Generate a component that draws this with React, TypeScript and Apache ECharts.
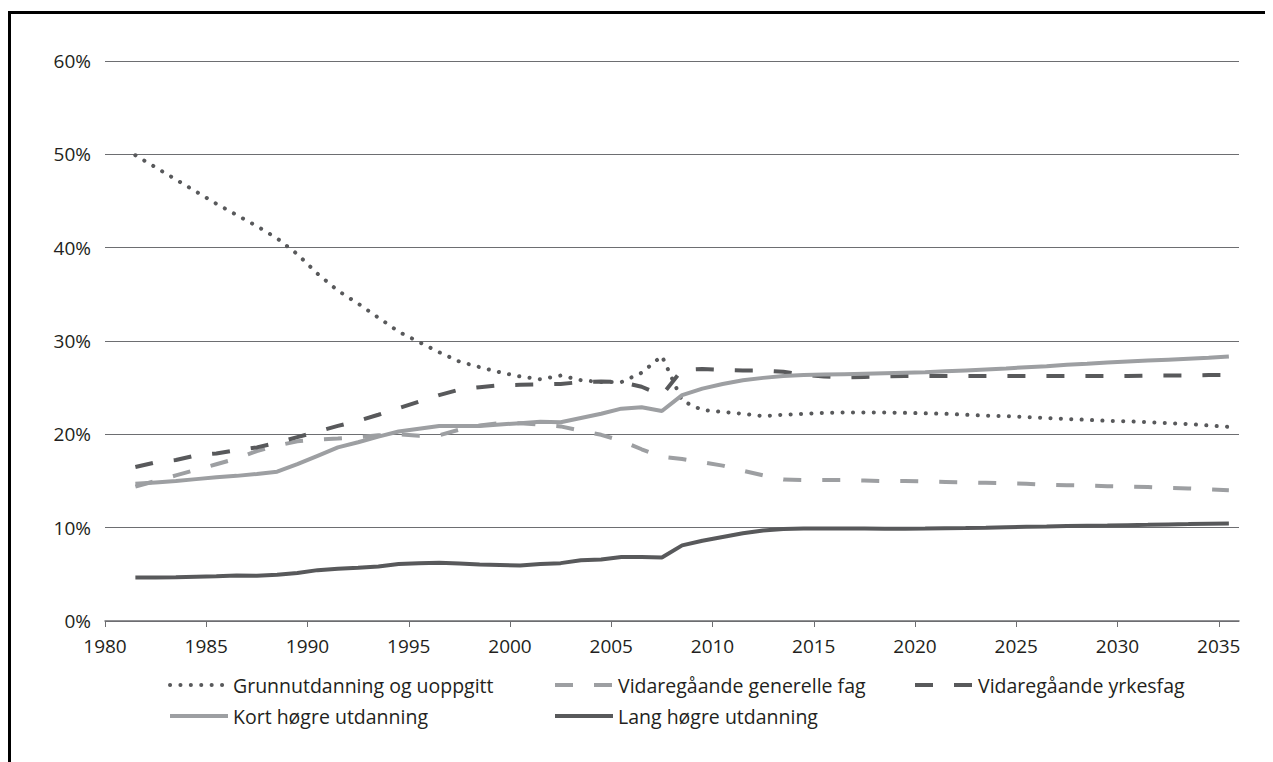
import React, { useEffect, useRef } from "react";
import * as echarts from "echarts";

const years = [
  1981, 1982, 1983, 1984, 1985, 1986, 1987, 1988, 1989, 1990,
  1991, 1992, 1993, 1994, 1995, 1996, 1997, 1998, 1999, 2000,
  2001, 2002, 2003, 2004, 2005, 2006, 2007, 2008, 2009, 2010,
  2011, 2012, 2013, 2014, 2015, 2016, 2017, 2018, 2019, 2020,
  2021, 2022, 2023, 2024, 2025, 2026, 2027, 2028, 2029, 2030,
  2031, 2032, 2033, 2034, 2035,
];

const tickYears = [1980, 1985, 1990, 1995, 2000, 2005, 2010, 2015, 2020, 2025, 2030, 2035];

const grunnutdanning = [
  49.9, 48.6, 47.3, 46.0, 44.7, 43.5, 42.3, 41.0, 39.3, 37.2,
  35.4, 34.0, 32.5, 31.0, 29.9, 28.8, 27.8, 27.2, 26.65, 26.2,
  25.9, 26.3, 25.8, 25.6, 25.6, 26.6, 28.4, 23.6, 22.6, 22.4,
  22.2, 21.95, 22.1, 22.2, 22.3, 22.35, 22.35, 22.35, 22.3, 22.25,
  22.2, 22.1, 22.0, 21.95, 21.85, 21.75, 21.65, 21.55, 21.45, 21.4,
  21.3, 21.2, 21.1, 20.95, 20.8,
];

const generelle = [
  14.4, 15.0, 15.6, 16.2, 16.8, 17.4, 18.2, 18.8, 19.25, 19.45,
  19.55, 19.7, 19.9, 20.0, 19.85, 19.9, 20.5, 20.95, 21.2, 21.2,
  21.05, 20.85, 20.4, 19.95, 19.3, 18.4, 17.6, 17.35, 17.0, 16.65,
  16.1, 15.6, 15.15, 15.1, 15.1, 15.1, 15.05, 15.0, 15.0, 14.95,
  14.9, 14.85, 14.8, 14.75, 14.7, 14.6, 14.55, 14.5, 14.45, 14.4,
  14.35, 14.25, 14.2, 14.1, 14.0,
];

const yrkesfag = [
  16.5, 17.0, 17.25, 17.75, 17.95, 18.3, 18.6, 19.1, 19.7, 20.3,
  20.9, 21.45, 22.1, 22.8, 23.5, 24.2, 24.8, 25.05, 25.25, 25.3,
  25.35, 25.4, 25.6, 25.65, 25.6, 25.1, 24.2, 26.9, 27.0, 26.9,
  26.85, 26.85, 26.7, 26.4, 26.2, 26.1, 26.15, 26.2, 26.25, 26.25,
  26.25, 26.25, 26.25, 26.25, 26.25, 26.25, 26.25, 26.25, 26.25, 26.25,
  26.3, 26.3, 26.3, 26.35, 26.35,
];

const kort = [
  14.7, 14.85, 15.0, 15.2, 15.4, 15.55, 15.75, 16.0, 16.8, 17.7,
  18.6, 19.15, 19.75, 20.3, 20.6, 20.9, 20.9, 20.9, 21.05, 21.2,
  21.35, 21.3, 21.75, 22.2, 22.75, 22.9, 22.5, 24.2, 24.9, 25.4,
  25.8, 26.05, 26.25, 26.35, 26.4, 26.45, 26.5, 26.55, 26.6, 26.65,
  26.75, 26.85, 26.95, 27.05, 27.2, 27.3, 27.45, 27.55, 27.7, 27.8,
  27.9, 28.0, 28.1, 28.2, 28.35,
];

const lang = [
  4.65, 4.67, 4.68, 4.75, 4.8, 4.88, 4.85, 4.95, 5.15, 5.45,
  5.6, 5.7, 5.85, 6.1, 6.2, 6.25, 6.15, 6.05, 6.0, 5.95,
  6.1, 6.2, 6.5, 6.6, 6.85, 6.85, 6.8, 8.1, 8.6, 9.0,
  9.4, 9.7, 9.85, 9.9, 9.9, 9.9, 9.9, 9.88, 9.88, 9.9,
  9.93, 9.96, 10.0, 10.05, 10.1, 10.13, 10.17, 10.2, 10.23, 10.27,
  10.3, 10.35, 10.38, 10.42, 10.45,
];

const seriesNames = [
  "Grunnutdanning og uoppgitt",
  "Vidaregåande generelle fag",
  "Vidaregåande yrkesfag",
  "Kort høgre utdanning",
  "Lang høgre utdanning",
];

const DARK = "#58595b";
const LIGHT = "#9d9fa2";
const TEXT = "#231f20";
const FONT = "'Open Sans', 'Noto Sans', sans-serif";

export default function App() {
  const ref = useRef<HTMLDivElement>(null);

  useEffect(() => {
    if (!ref.current) return;
    const chart = echarts.init(ref.current, undefined, { renderer: "svg" });

    // yearly values are plotted at mid-year
    const toPts = (vals: number[]) => years.map((y, i) => [y + 0.5, vals[i]]);

    const styles = [
      { color: DARK, width: 4, type: [0.1, 10.3], cap: "round" },
      { color: LIGHT, width: 4, type: [18, 21], cap: "butt" },
      { color: DARK, width: 4, type: [18, 21], cap: "butt" },
      { color: LIGHT, width: 4, type: "solid", cap: "butt" },
      { color: DARK, width: 4, type: "solid", cap: "butt" },
    ];
    const values = [grunnutdanning, generelle, yrkesfag, kort, lang];

    const legendPos = [
      { left: 168, top: 675 },
      { left: 553, top: 675 },
      { left: 913, top: 675 },
      { left: 168, top: 706 },
      { left: 553, top: 706 },
    ];

    chart.setOption({
      animation: false,
      textStyle: { fontFamily: FONT },
      grid: { left: 105, right: 34, top: 61, bottom: 141, containLabel: false },
      xAxis: {
        type: "value",
        min: 1980,
        max: 2036,
        interval: 5,
        axisLine: { show: true, lineStyle: { color: "#6d6e71", width: 1.5 } },
        axisTick: {
          show: true,
          inside: false,
          length: 6,
          customValues: tickYears,
          lineStyle: { color: "#6d6e71", width: 1 },
        },
        axisLabel: {
          customValues: tickYears,
          color: TEXT,
          fontSize: 19,
          fontFamily: FONT,
          margin: 15,
          formatter: (v: number) => String(v),
        },
        splitLine: { show: false },
      },
      yAxis: {
        type: "value",
        min: 0,
        max: 60,
        interval: 10,
        axisLine: { show: false },
        axisTick: { show: false },
        axisLabel: {
          color: TEXT,
          fontSize: 19,
          fontFamily: FONT,
          margin: 14,
          formatter: "{value}%",
        },
        splitLine: { show: true, lineStyle: { color: "#6d6e71", width: 1.2 } },
      },
      legend: seriesNames.map((n, i) => ({
        data: [n],
        left: legendPos[i].left,
        top: legendPos[i].top,
        itemWidth: 58,
        itemHeight: 14,
        selectedMode: false,
        padding: 0,
        itemStyle: { opacity: 0 },
        lineStyle: { width: 4, color: styles[i].color, type: styles[i].type, cap: styles[i].cap },
        textStyle: { color: TEXT, fontSize: 19.5, fontFamily: FONT },
      })),
      series: seriesNames.map((n, i) => ({
        name: n,
        type: "line",
        data: toPts(values[i]),
        showSymbol: false,
        symbol: "none",
        silent: true,
        lineStyle: styles[i],
        itemStyle: { color: styles[i].color },
        z: 2 + i,
      })),
    });

    return () => chart.dispose();
  }, []);

  return (
    <div style={{ position: "relative", width: 1265, height: 754 }}>
      <div
        style={{
          position: "absolute",
          left: 0,
          top: 3,
          width: 1265,
          height: 751,
          borderTop: "3px solid #000",
          borderLeft: "3px solid #000",
          boxSizing: "border-box",
        }}
      />
      <div
        ref={ref}
        style={{ position: "absolute", left: -8, top: -8, width: 1273, height: 762 }}
      />
    </div>
  );
}
